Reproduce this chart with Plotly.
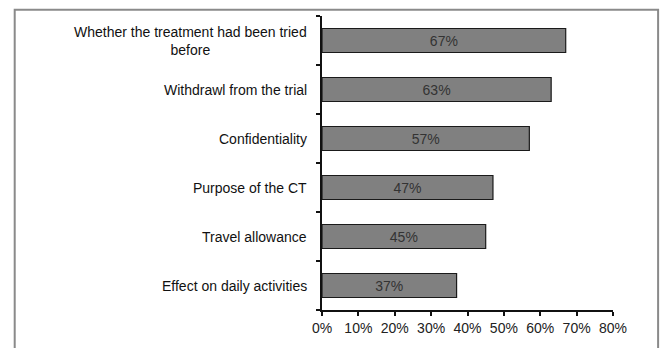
import plotly.graph_objects as go

categories = [
    "Effect on daily activities",
    "Travel allowance",
    "Purpose of the CT",
    "Confidentiality",
    "Withdrawl from the trial",
    "Whether the treatment had been tried<br>before",
]
values = [0.37, 0.45, 0.47, 0.57, 0.63, 0.67]
value_labels = ["37%", "45%", "47%", "57%", "63%", "67%"]
x_tickvals = [0, 0.1, 0.2, 0.3, 0.4, 0.5, 0.6, 0.7, 0.8]
x_ticktext = ["0%", "10%", "20%", "30%", "40%", "50%", "60%", "70%", "80%"]

FONT = "Liberation Sans, Arial, sans-serif"
FS = 14

fig = go.Figure()
fig.add_trace(go.Bar(
    y=categories,
    x=values,
    orientation="h",
    marker=dict(color="#808080", line=dict(color="#1a1a1a", width=1.2)),
    text=value_labels,
    textposition="inside",
    insidetextanchor="middle",
    textfont=dict(family=FONT, size=FS, color="#333333"),
    hoverinfo="skip",
))

# category labels as annotations (centered multi-line text, right anchored)
for c in categories:
    fig.add_annotation(
        x=0, xref="paper", xanchor="right", xshift=-13,
        y=c, yref="y", yanchor="middle",
        text=c, showarrow=False, align="center",
        font=dict(family=FONT, size=FS, color="#111111"),
    )

# outer frame (as in the reference image)
fig.add_shape(type="rect", xref="paper", yref="paper",
              x0=-1.056, x1=1.155, y0=-0.2, y1=1.021,
              line=dict(color="#8a8a8a", width=2), layer="below")

fig.update_layout(
    width=660, height=348,
    margin=dict(l=322, r=47, t=16, b=31),
    paper_bgcolor="white",
    plot_bgcolor="white",
    bargap=0.51,
    showlegend=False,
    font=dict(family=FONT, size=FS, color="#111111"),
    xaxis=dict(
        range=[0, 0.8],
        tickvals=x_tickvals,
        ticktext=x_ticktext,
        showgrid=False, zeroline=False,
        showline=True, linecolor="#111111", linewidth=1.5,
        ticks="outside", ticklen=4, tickcolor="#111111", tickwidth=1.5,
        tickfont=dict(family=FONT, size=FS, color="#222222"),
    ),
    yaxis=dict(
        type="category",
        categoryorder="array", categoryarray=categories,
        range=[-0.5, 5.5],
        showticklabels=False,
        showgrid=False, zeroline=False,
        showline=True, linecolor="#111111", linewidth=1.5,
        ticks="outside", ticklen=4, tickcolor="#111111", tickwidth=1.5,
        tickson="boundaries",
    ),
)

fig.write_html("out.html")
